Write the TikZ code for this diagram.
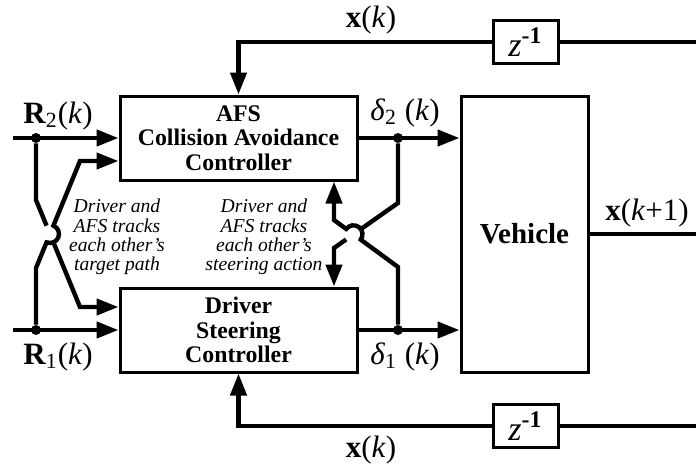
\documentclass[tikz,border=0pt]{standalone}
\usepackage{fontspec}
\setmainfont{Liberation Serif}
\usepackage{tikz}
\usetikzlibrary{arrows.meta, positioning, calc}

\tikzset{
  block/.style={draw, line width=1.5pt, align=center, inner sep=0pt,
    font=\bfseries\fontsize{11.9}{12.25}\selectfont},
  delay/.style={draw, line width=1.5pt, inner sep=0pt,
    minimum width=32.5pt, minimum height=21.5pt, font=\fontsize{17}{17}\selectfont},
  sig/.style={line width=2.2pt},
  dot/.style={circle, fill, inner sep=0pt, minimum size=5pt},
  lbl/.style={font=\fontsize{15.5}{17}\selectfont},
  note/.style={align=center, font=\itshape\fontsize{9.8}{9.7}\selectfont},
}

\begin{document}
\begin{tikzpicture}[x=0.5pt, y=0.5pt, >={Triangle[length=11pt, width=8pt]}]
  \useasboundingbox (0,0) rectangle (696,468);
  % controllers and vehicle
  \node[block, minimum width=118.5pt, minimum height=42pt] (afs) at (238.5,330)
    {AFS\\Collision Avoidance\\Controller};
  \node[block, minimum width=118.5pt, minimum height=42pt] (drv) at (238.5,138)
    {Driver\\Steering\\Controller};
  \node[block, minimum width=63.5pt, minimum height=138pt,
    font=\bfseries\fontsize{14.5}{16}\selectfont] (veh) at (524.5,234) {Vehicle};
  % unit delays in the state feedback
  \node[delay] (ztop) at (525.5,426) {\textit{z}\textsuperscript{\textbf{-1}}};
  \node[delay] (zbot) at (525.5,42) {\textit{z}\textsuperscript{\textbf{-1}}};
  % junctions
  \coordinate (r2) at (13,330);
  \coordinate (r1) at (13,138);
  \node[dot] (r2dot) at (36,330) {};
  \node[dot] (r1dot) at (36,138) {};
  \node[dot] (d2dot) at (398,330) {};
  \node[dot] (d1dot) at (398,138) {};
  \coordinate (etop) at (696,426);
  \coordinate (emid) at (696,234);
  \coordinate (ebot) at (696,42);
  % bends of the target path exchange
  \coordinate (ta1) at (36,268);
  \coordinate (ta2) at (80,161);
  \coordinate (tb1) at (36,200);
  \coordinate (tb2) at (80,307);
  \coordinate (tx) at (intersection of ta1--ta2 and tb1--tb2);
  % bends of the steering exchange
  \coordinate (sa1) at (398,201);
  \coordinate (sa2) at (334,248);
  \coordinate (sb1) at (398,265);
  \coordinate (sb2) at (334,220);
  \coordinate (sx) at (intersection of sa1--sa2 and sb1--sb2);

  % references
  \draw[sig,->] (r2) -- (afs.west);
  \draw[sig,->] (r1) -- (drv.west);
  \draw[sig] (r2dot) -- (ta1) -- ($(tx)!4.5pt!(ta1)$);
  \draw[sig,->] ($(tx)!4.5pt!(ta2)$) -- (ta2) -- (drv.west |- ta2);
  \draw[sig,->] (r1dot) -- (tb1) -- ($(tx)!4.5pt!(tb1)$)
    arc[start angle=247.64, end angle=427.64, radius=4.5pt] -- (tb2) -- (afs.west |- tb2);

  % steering commands
  \draw[sig,->] (afs.east) -- (veh.west |- afs.east);
  \draw[sig,->] (drv.east) -- (veh.west |- drv.east);
  \draw[sig,->] (d1dot) -- (sa1) -- ($(sx)!4.5pt!(sa1)$)
    arc[start angle=-36.29, end angle=143.71, radius=4.5pt] -- (sa2) -- (sa2 |- afs.south);
  \draw[sig] (d2dot) -- (sb1) -- ($(sx)!4.5pt!(sb1)$);
  \draw[sig,->] ($(sx)!4.5pt!(sb2)$) -- (sb2) -- (sb2 |- drv.north);

  % state feedback
  \draw[sig] (veh.east) -- (emid);
  \draw[sig] (etop) -- (ztop.east);
  \draw[sig,->] (ztop.west) -- (afs.north |- ztop.west) -- (afs.north);
  \draw[sig] (ebot) -- (zbot.east);
  \draw[sig,->] (zbot.west) -- (drv.south |- zbot.west) -- (drv.south);

  % signal labels
  \node[lbl] (lr2) at (58,352) {\textbf{R}\textsubscript{2}(\textit{k})};
  \node[lbl] (lr1) at (58,111) {\textbf{R}\textsubscript{1}(\textit{k})};
  \node[lbl] (ld2) at (405,355) {\textit{δ}\textsubscript{2} (\textit{k})};
  \node[lbl] (ld1) at (405,111) {\textit{δ}\textsubscript{1} (\textit{k})};
  \node[lbl] (lxtop) at (371,448) {\textbf{x}(\textit{k})};
  \node[lbl] (lxbot) at (371,18) {\textbf{x}(\textit{k})};
  \node[lbl] (lxout) at (647,255) {\textbf{x}(\textit{k}+1)};
  \node[note] (ntarget) at (117,231) {Driver and\\AFS tracks\\each other’s\\target path};
  \node[note] (nsteer) at (264,231) {Driver and\\AFS tracks\\each other’s\\steering action};
\end{tikzpicture}
\end{document}
